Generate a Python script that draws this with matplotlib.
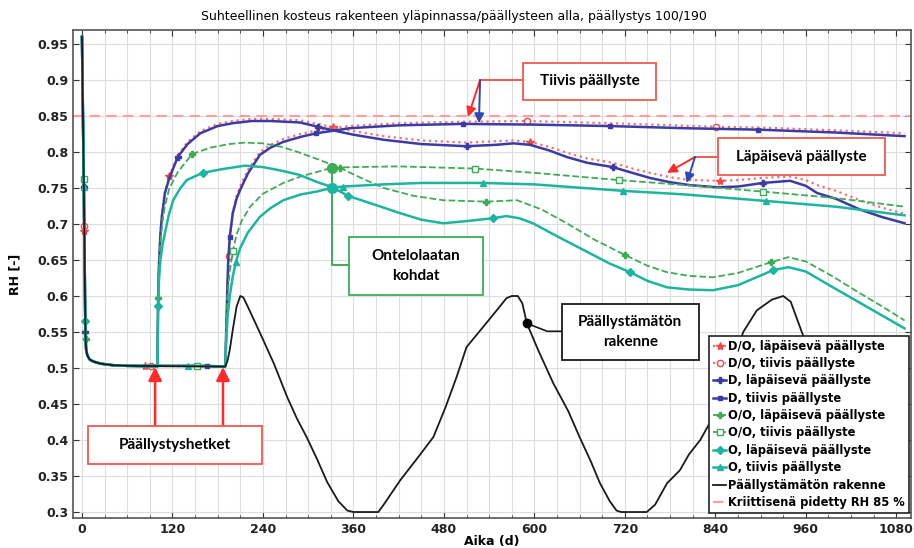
import matplotlib
matplotlib.use("Agg")
import matplotlib.pyplot as plt
from matplotlib.patches import Rectangle
from matplotlib.ticker import FormatStrFormatter

# shared start: drying from 0.96 down to ~0.50 before coating
init_days = [0, 1, 2, 2.3, 2.5, 3, 3.2, 4, 4.4, 4.6, 4.8, 5.5, 7, 10, 15, 25, 40, 60]
init_rh = [0.96, 0.875, 0.79, 0.762, 0.752, 0.697, 0.69, 0.6, 0.565, 0.55, 0.54,
           0.526, 0.518, 0.512, 0.509, 0.506, 0.504, 0.503]

# D/O, läpäisevä (coated day 100)
dol_days = [84, 100, 101, 102, 104, 106, 110, 116, 127, 140, 157, 180, 200, 225, 250, 289,
            313, 333, 360, 400, 450, 510, 550, 572, 594, 620, 643, 670, 704, 730, 753, 780,
            806, 846, 870, 903, 939, 960, 975, 1000, 1032, 1060, 1091]
dol_rh = [0.503, 0.502, 0.6, 0.645, 0.69, 0.715, 0.745, 0.767, 0.795, 0.814, 0.829, 0.839,
          0.843, 0.846, 0.846, 0.844, 0.839, 0.834, 0.829, 0.822, 0.816, 0.813, 0.815, 0.816,
          0.814, 0.807, 0.799, 0.791, 0.785, 0.777, 0.771, 0.765, 0.761, 0.76, 0.761, 0.764,
          0.766, 0.761, 0.754, 0.746, 0.733, 0.723, 0.714]
dol_marks = [3.2, 84, 116, 333, 594, 846]

# D/O, tiivis (coated day 190)
dot_days = [92, 190, 192, 194, 195, 197, 200, 205, 210, 220, 236, 250, 267, 290, 311, 338,
            355, 420, 505, 590, 700, 841, 900, 1000, 1091]
dot_rh = [0.503, 0.502, 0.57, 0.63, 0.656, 0.69, 0.716, 0.739, 0.753, 0.775, 0.8, 0.81, 0.818,
          0.825, 0.83, 0.834, 0.836, 0.84, 0.842, 0.843, 0.84, 0.835, 0.834, 0.83, 0.826]
dot_marks = [3, 92, 195, 590, 841]

# D, läpäisevä
dl_days = [100, 101, 102, 104, 106, 110, 116, 127, 140, 157, 180, 200, 225, 250, 289, 313,
           333, 360, 400, 450, 510, 550, 572, 594, 620, 643, 670, 704, 730, 753, 780, 806,
           842, 870, 903, 939, 960, 975, 1000, 1032, 1060, 1091]
dl_rh = [0.502, 0.6, 0.64, 0.685, 0.71, 0.743, 0.764, 0.793, 0.811, 0.826, 0.836, 0.84,
         0.843, 0.843, 0.841, 0.835, 0.83, 0.824, 0.817, 0.811, 0.808, 0.81, 0.812, 0.81,
         0.802, 0.793, 0.785, 0.779, 0.771, 0.764, 0.758, 0.754, 0.751, 0.752, 0.757, 0.76,
         0.753, 0.743, 0.735, 0.72, 0.71, 0.701]
dl_marks = [2.5, 4.6, 127, 313, 510, 704, 903]

# D, tiivis
dt_days = [166, 190, 191, 192, 193, 194, 196, 200, 205, 210, 220, 236, 250, 267, 290, 311,
           355, 420, 505, 600, 700, 800, 897, 1000, 1091]
dt_rh = [0.503, 0.502, 0.54, 0.58, 0.62, 0.65, 0.682, 0.715, 0.735, 0.748, 0.77, 0.796,
         0.806, 0.814, 0.821, 0.826, 0.833, 0.837, 0.839, 0.838, 0.836, 0.833, 0.831, 0.827,
         0.822]
dt_marks = [2.5, 166, 196, 311, 505, 700, 897]

# O/O, läpäisevä
ool_days = [100, 101, 102, 104, 107, 110, 116, 127, 146, 170, 195, 216, 240, 265, 289, 315,
            342, 370, 400, 440, 479, 536, 577, 610, 643, 680, 720, 750, 776, 805, 837, 870,
            914, 937, 960, 996, 1030, 1062, 1091]
ool_rh = [0.502, 0.597, 0.635, 0.675, 0.705, 0.725, 0.75, 0.772, 0.797, 0.806, 0.811, 0.813,
          0.812, 0.807, 0.799, 0.789, 0.778, 0.764, 0.75, 0.739, 0.733, 0.731, 0.733, 0.72,
          0.701, 0.678, 0.657, 0.642, 0.633, 0.628, 0.626, 0.632, 0.647, 0.654, 0.648, 0.627,
          0.605, 0.585, 0.566]
ool_marks = [4.8, 101, 146, 342, 536, 720, 914]

# O/O, tiivis
oot_days = [152, 190, 191, 193, 196, 200, 205, 212, 223, 240, 267, 290, 311, 331, 360, 420,
            521, 600, 712, 800, 903, 1000, 1091]
oot_rh = [0.503, 0.502, 0.55, 0.6, 0.635, 0.662, 0.685, 0.705, 0.724, 0.742, 0.757, 0.766,
          0.772, 0.778, 0.779, 0.78, 0.777, 0.771, 0.761, 0.754, 0.745, 0.736, 0.724]
oot_marks = [2.3, 152, 200, 521, 712, 903]

# O, läpäisevä
ol_days = [100, 101, 102, 104, 107, 110, 115, 121, 130, 139, 160, 185, 216, 240, 265, 289,
           310, 332, 353, 385, 422, 450, 479, 510, 545, 563, 580, 598, 630, 665, 700, 727,
           750, 776, 805, 837, 870, 917, 937, 960, 996, 1041, 1091]
ol_rh = [0.502, 0.586, 0.62, 0.65, 0.672, 0.687, 0.712, 0.733, 0.749, 0.761, 0.771, 0.776,
         0.781, 0.779, 0.774, 0.768, 0.759, 0.751, 0.739, 0.728, 0.715, 0.706, 0.701, 0.704,
         0.708, 0.711, 0.708, 0.701, 0.683, 0.664, 0.645, 0.633, 0.621, 0.612, 0.609, 0.608,
         0.615, 0.636, 0.64, 0.634, 0.612, 0.585, 0.555]
ol_marks = [4.4, 101, 160, 353, 545, 727, 917]

# O, tiivis
ot_days = [141, 190, 191, 193, 196, 200, 204, 210, 220, 236, 250, 267, 290, 311, 331, 346,
           400, 450, 532, 600, 718, 800, 907, 1000, 1091]
ot_rh = [0.503, 0.502, 0.53, 0.57, 0.6, 0.627, 0.647, 0.667, 0.688, 0.71, 0.722, 0.733,
         0.741, 0.745, 0.75, 0.752, 0.755, 0.757, 0.757, 0.755, 0.746, 0.741, 0.732, 0.724,
         0.712]
ot_marks = [2.5, 141, 204, 346, 532, 718, 907]

# uncoated structure
bl_days = [190, 193, 196, 200, 205, 210, 214, 220, 236, 255, 272, 285, 298, 312, 325, 340,
           352, 360, 393, 400, 422, 445, 466, 482, 497, 510, 532, 550, 563, 570, 578, 584,
           590, 605, 625, 645, 660, 675, 687, 700, 709, 715, 749, 760, 776, 793, 805, 820,
           837, 855, 877, 895, 915, 930, 940, 955, 975, 1000, 1030, 1060, 1091]
bl_rh = [0.502, 0.51, 0.525, 0.553, 0.585, 0.6, 0.598, 0.585, 0.549, 0.505, 0.46, 0.43,
         0.404, 0.373, 0.342, 0.315, 0.302, 0.3, 0.3, 0.31, 0.344, 0.375, 0.404, 0.445,
         0.488, 0.529, 0.557, 0.58, 0.597, 0.6, 0.6, 0.59, 0.562, 0.525, 0.479, 0.44, 0.404,
         0.37, 0.34, 0.315, 0.302, 0.3, 0.3, 0.31, 0.34, 0.358, 0.38, 0.4, 0.432, 0.48, 0.55,
         0.58, 0.595, 0.6, 0.592, 0.549, 0.5, 0.44, 0.38, 0.33, 0.305]

rh_crit = 0.85

RED = '#f04848'
REDL = '#f57070'
BLUE = '#3b3ba3'
GREEN = '#3dac55'
TEAL = '#1bb5a0'

plt.rcParams['font.family'] = 'DejaVu Sans'

fig = plt.figure(figsize=(9.14, 5.48), dpi=100)
ax = fig.add_axes([73 / 914, 1 - 518 / 548, 838 / 914, 488 / 548])

series = [
    ('D/O, läpäisevä päällyste', dol_days, dol_rh, dol_marks, REDL, ':', 1.6, '*', RED, 6),
    ('D/O, tiivis päällyste', dot_days, dot_rh, dot_marks, REDL, ':', 1.6, 'o', 'white', 4.5),
    ('D, läpäisevä päällyste', dl_days, dl_rh, dl_marks, BLUE, '-', 1.8, 'P', BLUE, 4.5),
    ('D, tiivis päällyste', dt_days, dt_rh, dt_marks, BLUE, '-', 1.8, 's', BLUE, 3.5),
    ('O/O, läpäisevä päällyste', ool_days, ool_rh, ool_marks, GREEN, '--', 1.3, 'P', GREEN, 4.5),
    ('O/O, tiivis päällyste', oot_days, oot_rh, oot_marks, GREEN, '--', 1.3, 's', 'white', 4),
    ('O, läpäisevä päällyste', ol_days, ol_rh, ol_marks, TEAL, '-', 1.8, 'D', TEAL, 4),
    ('O, tiivis päällyste', ot_days, ot_rh, ot_marks, TEAL, '-', 1.8, '^', TEAL, 4.5),
]

for lab, d, r, marks, col, ls, lw, mk, mfc, ms in series:
    days = init_days + d
    rh = init_rh + r
    idx = [days.index(m) for m in marks]
    mec = RED if col == REDL else col
    ax.plot(days, rh, color=col, ls=ls, lw=lw, marker=mk, markevery=idx, ms=ms,
            mfc=mfc, mec=mec, mew=1, label=lab, zorder=3)

bdays = init_days + bl_days
brh = init_rh + bl_rh
ax.plot(bdays, brh, color='#1a1a1a', lw=1.3, label='Päällystämätön rakenne', zorder=3)
ax.axhline(rh_crit, color='#ff9e9e', ls=(0, (5, 3)), lw=1.5, zorder=2,
           label='Kriittisenä pidetty RH 85 %')

ax.set_xlim(-11.9, 1099.5)
ax.set_ylim(0.2917, 0.9694)
ax.set_xticks(range(0, 1081, 120))
ax.set_xticks(range(0, 1081, 30), minor=True)
ax.set_yticks([0.3 + 0.05 * i for i in range(14)])
ax.yaxis.set_major_formatter(FormatStrFormatter('%g'))
ax.grid(which='both', color='#dddddd', lw=0.8, zorder=0)
ax.set_axisbelow(True)
ax.tick_params(which='both', direction='in', top=True, right=True, colors='#333333',
               labelcolor='#222222')
ax.tick_params(which='major', length=4, labelsize=9)
ax.tick_params(which='minor', length=2)
for t in ax.get_xticklabels() + ax.get_yticklabels():
    t.set_fontweight('bold')
for s in ax.spines.values():
    s.set_color('#555555')
    s.set_linewidth(1.2)

ax.set_ylabel('RH [-]', fontsize=9, fontweight='bold')
ax.yaxis.set_label_coords(-0.061, 0.5)
ax.set_xlabel('Aika (d)', fontsize=9, fontweight='bold')
ax.xaxis.set_label_coords(0.5, -0.035)
fig.text(0.497, 0.969, 'Suhteellinen kosteus rakenteen yläpinnassa/päällysteen alla, päällystys 100/190',
         ha='center', va='center', fontsize=9)

# annotation boxes
afont = dict(family=['Lato', 'DejaVu Sans'], weight='bold', size=11)


def box(x0, x1, y0, y1, text, ec):
    ax.add_patch(Rectangle((x0, y0), x1 - x0, y1 - y0, fc='white', ec=ec, lw=1.3, zorder=6))
    ax.text((x0 + x1) / 2, (y0 + y1) / 2, text, ha='center', va='center', zorder=7,
            linespacing=1.5, **afont)


def arrow(x0, y0, x1, y1, col, ms=14, lw=1.4):
    ax.annotate('', xy=(x1, y1), xytext=(x0, y0), zorder=6,
                arrowprops=dict(arrowstyle='-|>', color=col, lw=lw, mutation_scale=ms,
                                shrinkA=0, shrinkB=0))


BOXRED = '#f05a50'
# Tiivis
ax.plot([585, 528], [0.9, 0.9], color=BOXRED, lw=1.4, zorder=6)
arrow(528, 0.9, 512, 0.8486, '#ff2a2a')
arrow(528, 0.9, 526.5, 0.840, '#2b4bb0')
box(585, 761, 0.8722, 0.9236, 'Tiivis päällyste', BOXRED)

# Läpäisevä
ax.plot([843.5, 813], [0.793, 0.793], color=BOXRED, lw=1.4, zorder=6)
arrow(813, 0.793, 776, 0.771, '#ff2a2a')
arrow(813, 0.793, 802, 0.757, '#2b4bb0')
box(843.5, 1065, 0.768, 0.8194, 'Läpäisevä päällyste', BOXRED)

# Ontelolaatan kohdat
gy = oot_rh[oot_days.index(331)]
ty = ot_rh[ot_days.index(331)]
ax.plot([354, 331, 331], [0.643, 0.643, gy], color=GREEN, lw=1.4, zorder=6)
ax.plot([331], [gy], 'o', color=GREEN, ms=7, zorder=6)
ax.plot([331], [ty], 'o', color=TEAL, ms=7, zorder=6)
box(354, 532, 0.601, 0.682, 'Ontelolaatan\nkohdat', GREEN)

# Päällystämätön rakenne
by = bl_rh[bl_days.index(590)]
ax.plot([590, 617, 636], [by, 0.551, 0.551], color='#1a1a1a', lw=1.2, zorder=6)
ax.plot([590], [by], 'o', color='black', ms=6, zorder=6)
box(636, 818, 0.511, 0.589, 'Päällystämätön\nrakenne', '#1a1a1a')

# Päällystyshetket
arrow(97, 0.4194, 97, 0.5014, '#ff2a2a', ms=20, lw=1.8)
arrow(187, 0.4194, 187, 0.5014, '#ff2a2a', ms=20, lw=1.8)
box(8, 239, 0.3667, 0.4194, 'Päällystyshetket', BOXRED)

leg = ax.legend(loc='lower right', bbox_to_anchor=(0.9976, 0.0102), borderaxespad=0,
                prop=dict(family='DejaVu Sans', weight='bold', size=8.3),
                handlelength=1.1, handletextpad=0.2, labelspacing=0.38, borderpad=0.35,
                fancybox=False, framealpha=1, edgecolor='#222222')
leg.get_frame().set_linewidth(1.2)
leg.set_zorder(10)

fig.savefig('out.png', dpi=100)
